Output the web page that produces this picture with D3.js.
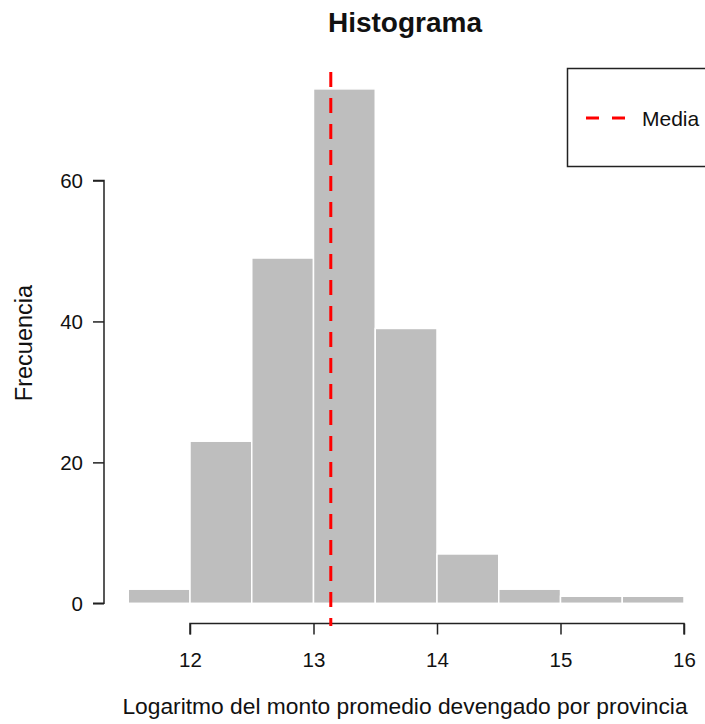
<!DOCTYPE html>
<html><head><meta charset="utf-8">
<script src="https://cdn.jsdelivr.net/npm/d3@7"></script>
<style>body{margin:0;background:#fff}svg{display:block;font-family:"Liberation Sans",Arial,sans-serif}</style>
</head><body><svg id="c" width="705" height="724"></svg>
<script>
const binEdges = [11.5,12,12.5,13,13.5,14,14.5,15,15.5,16];
const counts = [2,23,49,73,39,7,2,1,1];
const meanValue = 13.14;
const xTicks = [12,13,14,15,16];
const yTicks = [0,20,40,60];
const title = "Histograma";
const xLabel = "Logaritmo del monto promedio devengado por provincia";
const yLabel = "Frecuencia";
const legendLabel = "Media";

const svg = d3.select("#c");
const x = d3.scaleLinear().domain([12,16]).range([190,684]);
const y = d3.scaleLinear().domain([0,60]).range([603.3,180.5]);

const bins = counts.map((c,i)=>({x0:binEdges[i],x1:binEdges[i+1],c}));
svg.append("g").selectAll("rect").data(bins).join("rect")
  .attr("x",d=>x(d.x0)).attr("width",d=>x(d.x1)-x(d.x0))
  .attr("y",d=>y(d.c)).attr("height",d=>y(0)-y(d.c))
  .attr("fill","#bebebe").attr("stroke","#ffffff").attr("stroke-width",1.5);

// axes
const yAxis = d3.axisLeft(y).tickValues(yTicks).tickFormat(d3.format("d")).tickSize(11).tickPadding(10);
const gy = svg.append("g").attr("transform","translate(104,0)").call(yAxis);
const xAxis = d3.axisBottom(x).tickValues(xTicks).tickFormat(d3.format("d")).tickSize(11).tickPadding(10);
const gx = svg.append("g").attr("transform","translate(0,623.5)").call(xAxis);
[gy,gx].forEach(g=>{
  g.attr("font-size",null).attr("font-family",null);
  g.select(".domain").attr("stroke","#222").attr("stroke-width",1.5);
  g.selectAll(".tick line").attr("stroke","#222").attr("stroke-width",1.5);
  g.selectAll(".tick text").attr("fill","#111").style("font-size","20.5px");
});
gy.selectAll(".tick text").attr("dy","0.36em");
gx.selectAll(".tick text").attr("dy",null).attr("y",43.5);
gy.select(".domain").attr("d",`M-11,${y(60)}H0V${y(0)}H-11`);
gx.select(".domain").attr("d",`M${x(12)},11V0H${x(16)}V11`);

// mean line
svg.append("line").attr("x1",x(meanValue)).attr("x2",x(meanValue))
  .attr("y1",72).attr("y2",626)
  .attr("stroke","#ff0000").attr("stroke-width",3).attr("stroke-dasharray","15,11");

// title & labels
svg.append("text").attr("x",405).attr("y",32).attr("text-anchor","middle")
  .style("font-size","28px").style("font-weight","bold").attr("fill","#111").text(title);
svg.append("text").attr("x",405).attr("y",714).attr("text-anchor","middle")
  .style("font-size","22.8px").attr("fill","#111").text(xLabel);
svg.append("text").attr("transform","translate(32,343) rotate(-90)").attr("text-anchor","middle")
  .style("font-size","23.5px").attr("fill","#111").text(yLabel);

// legend
svg.append("rect").attr("x",567.5).attr("y",68.5).attr("width",160).attr("height",98)
  .attr("fill","none").attr("stroke","#222").attr("stroke-width",1.5);
svg.append("line").attr("x1",586).attr("x2",625).attr("y1",118).attr("y2",118)
  .attr("stroke","#ff0000").attr("stroke-width",3).attr("stroke-dasharray","13,13");
svg.append("text").attr("x",642).attr("y",126).style("font-size","21px").attr("fill","#111").text(legendLabel);
</script></body></html>
